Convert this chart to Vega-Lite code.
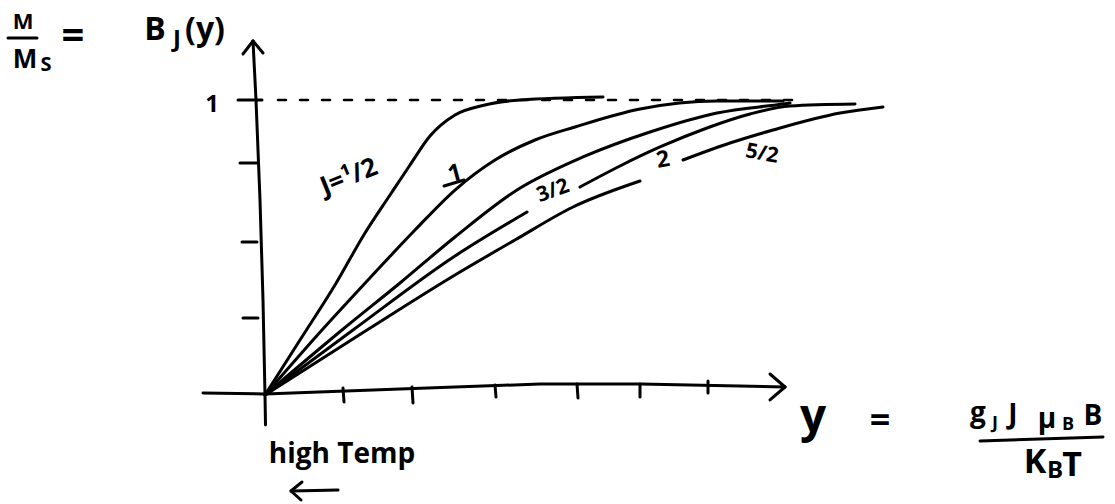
{
  "$schema": "https://vega.github.io/schema/vega-lite/v6.json",
  "width": 1115,
  "height": 504,
  "padding": 0,
  "autosize": {"type": "none"},
  "background": "white",
  "config": {"view": {"stroke": null}},
  "datasets": {
    "curves": [
      {"s": "J1/2", "x": 0, "y": 0}, {"s": "J1/2", "x": 0.35, "y": 0.1864}, {"s": "J1/2", "x": 0.70, "y": 0.3729}, {"s": "J1/2", "x": 1.00, "y": 0.5492}, {"s": "J1/2", "x": 1.25, "y": 0.6780}, {"s": "J1/2", "x": 1.45, "y": 0.7797}, {"s": "J1/2", "x": 1.65, "y": 0.8780}, {"s": "J1/2", "x": 1.90, "y": 0.9492}, {"s": "J1/2", "x": 2.20, "y": 0.9831}, {"s": "J1/2", "x": 2.55, "y": 1.0}, {"s": "J1/2", "x": 3.38, "y": 1.0101},
      {"s": "J1", "x": 0, "y": 0}, {"s": "J1", "x": 0.57, "y": 0.2203}, {"s": "J1", "x": 1.03, "y": 0.3898}, {"s": "J1", "x": 1.50, "y": 0.5593}, {"s": "J1", "x": 1.90, "y": 0.6949}, {"s": "J1", "x": 2.30, "y": 0.7966}, {"s": "J1", "x": 2.70, "y": 0.8644}, {"s": "J1", "x": 3.10, "y": 0.9085}, {"s": "J1", "x": 3.75, "y": 0.9695}, {"s": "J1", "x": 4.52, "y": 0.9966}, {"s": "J1", "x": 5.18, "y": 0.9966},
      {"s": "J3/2", "x": 0, "y": 0}, {"s": "J3/2", "x": 0.77, "y": 0.2203}, {"s": "J3/2", "x": 1.35, "y": 0.3797}, {"s": "J3/2", "x": 1.90, "y": 0.5356}, {"s": "J3/2", "x": 2.52, "y": 0.6949}, {"s": "J3/2", "x": 3.18, "y": 0.8068}, {"s": "J3/2", "x": 3.85, "y": 0.8915}, {"s": "J3/2", "x": 4.52, "y": 0.9559}, {"s": "J3/2", "x": 5.18, "y": 0.9864}, {"s": "J3/2", "x": 5.25, "y": 0.9898},
      {"s": "J2a", "x": 0, "y": 0}, {"s": "J2a", "x": 0.88, "y": 0.2203}, {"s": "J2a", "x": 1.90, "y": 0.4712}, {"s": "J2a", "x": 2.62, "y": 0.6203},
      {"s": "J2b", "x": 3.15, "y": 0.7051}, {"s": "J2b", "x": 3.55, "y": 0.7763}, {"s": "J2b", "x": 3.95, "y": 0.8407}, {"s": "J2b", "x": 4.42, "y": 0.9051}, {"s": "J2b", "x": 4.85, "y": 0.9525}, {"s": "J2b", "x": 5.25, "y": 0.9797}, {"s": "J2b", "x": 5.90, "y": 0.9864},
      {"s": "J5/2a", "x": 0, "y": 0}, {"s": "J5/2a", "x": 1.02, "y": 0.2203}, {"s": "J5/2a", "x": 1.90, "y": 0.4068}, {"s": "J5/2a", "x": 2.50, "y": 0.5254}, {"s": "J5/2a", "x": 3.08, "y": 0.6373}, {"s": "J5/2a", "x": 3.75, "y": 0.7254},
      {"s": "J5/2b", "x": 4.18, "y": 0.7966}, {"s": "J5/2b", "x": 4.65, "y": 0.8542}, {"s": "J5/2b", "x": 5.08, "y": 0.8983}, {"s": "J5/2b", "x": 5.75, "y": 0.9559}, {"s": "J5/2b", "x": 6.18, "y": 0.9763}
    ],
    "axes": [
      {"s": "yaxis", "x": 0.005, "y": -0.1017}, {"s": "yaxis", "x": 0, "y": 0}, {"s": "yaxis", "x": -0.02, "y": 0.3220}, {"s": "yaxis", "x": -0.05, "y": 0.6610}, {"s": "yaxis", "x": -0.09, "y": 1.0}, {"s": "yaxis", "x": -0.12, "y": 1.2},
      {"s": "xaxis", "x": -0.62, "y": 0.0068}, {"s": "xaxis", "x": 0, "y": 0.0034}, {"s": "xaxis", "x": 1.35, "y": 0.0203}, {"s": "xaxis", "x": 2.75, "y": 0.0373}, {"s": "xaxis", "x": 3.75, "y": 0.0373}, {"s": "xaxis", "x": 5.20, "y": 0.0271}
    ],
    "segs": [
      {"x": -0.27, "y": 1.0, "x2": -0.03, "y2": 1.0},
      {"x": -0.25, "y": 0.7864, "x2": -0.08, "y2": 0.7864},
      {"x": -0.23, "y": 0.5186, "x2": -0.08, "y2": 0.5186},
      {"x": -0.22, "y": 0.2610, "x2": -0.07, "y2": 0.2610},
      {"x": 0.78, "y": 0.0237, "x2": 0.79, "y2": -0.0237},
      {"x": 1.47, "y": 0.0271, "x2": 1.48, "y2": -0.0271},
      {"x": 2.30, "y": 0.0339, "x2": 2.31, "y2": -0.0068},
      {"x": 3.12, "y": 0.0373, "x2": 3.13, "y2": -0.0102},
      {"x": 3.75, "y": 0.0373, "x2": 3.75, "y2": -0.0068},
      {"x": 4.43, "y": 0.0475, "x2": 4.43, "y2": 0.0068},
      {"x": -0.22, "y": 1.1559, "x2": -0.12, "y2": 1.2},
      {"x": -0.12, "y": 1.2, "x2": -0.02, "y2": 1.1593},
      {"x": 5.05, "y": 0.0712, "x2": 5.20, "y2": 0.0271},
      {"x": 5.20, "y": 0.0271, "x2": 5.05, "y2": -0.0169},
      {"x": -2.57, "y": 1.2102, "x2": -2.28, "y2": 1.2102},
      {"x": 7.15, "y": -0.1559, "x2": 8.38, "y2": -0.1424},
      {"x": 1.79, "y": 0.7085, "x2": 1.99, "y2": 0.7288},
      {"x": 0.27, "y": -0.3254, "x2": 0.73, "y2": -0.3220},
      {"x": 0.37, "y": -0.2949, "x2": 0.26, "y2": -0.3254},
      {"x": 0.26, "y": -0.3254, "x2": 0.36, "y2": -0.3559}
    ],
    "dashed": [{"x": 0.13, "y": 1.0, "x2": 5.40}],
    "t_mtop": [{"t": "M", "x": -2.42, "y": 1.2644}],
    "t_mbot": [{"t": "M", "x": -2.40, "y": 1.1356}],
    "t_s": [{"t": "S", "x": -2.19, "y": 1.1186}],
    "t_eq1": [{"t": "=", "x": -1.92, "y": 1.2136}],
    "t_b": [{"t": "B", "x": -1.10, "y": 1.2373}, {"t": "(y)", "x": -0.60, "y": 1.2373}],
    "t_jsub": [{"t": "J", "x": -0.88, "y": 1.2034}],
    "t_one": [{"t": "1", "x": -0.53, "y": 0.9831}],
    "t_jhalf": [{"t": "J=¹/2", "x": 0.84, "y": 0.7390}],
    "t_l1": [{"t": "1", "x": 1.90, "y": 0.7492}],
    "t_l32": [{"t": "3/2", "x": 2.88, "y": 0.6915}],
    "t_l2": [{"t": "2", "x": 3.98, "y": 0.7966}],
    "t_l52": [{"t": "5/2", "x": 4.97, "y": 0.8169}],
    "t_yvar": [{"t": "y", "x": 5.48, "y": -0.0780}],
    "t_eq2": [{"t": "=", "x": 6.15, "y": -0.0881}],
    "t_num": [{"t": "g", "x": 7.13, "y": -0.0644}, {"t": "J", "x": 7.48, "y": -0.0712}, {"t": "μ", "x": 7.82, "y": -0.0847}, {"t": "B", "x": 8.28, "y": -0.0746}],
    "t_numsub": [{"t": "J", "x": 7.30, "y": -0.0983}, {"t": "B", "x": 8.03, "y": -0.1017}],
    "t_den": [{"t": "K", "x": 7.70, "y": -0.2305}, {"t": "T", "x": 8.07, "y": -0.2407}],
    "t_densub": [{"t": "B", "x": 7.90, "y": -0.2576}],
    "t_high": [{"t": "high Temp", "x": 0.77, "y": -0.2034}]
  },
  "encoding": {
    "x": {"field": "x", "type": "quantitative", "scale": {"domain": [-2.65, 8.5], "nice": false, "zero": false}, "axis": null},
    "y": {"field": "y", "type": "quantitative", "scale": {"domain": [-0.36949, 1.33898], "nice": false, "zero": false}, "axis": null}
  },
  "layer": [
    {"data": {"name": "dashed"}, "mark": {"type": "rule", "stroke": "black", "strokeWidth": 2.5, "strokeDash": [8, 14], "strokeCap": "round"}, "encoding": {"x2": {"field": "x2"}}},
    {"data": {"name": "curves"}, "mark": {"type": "line", "interpolate": "monotone", "stroke": "black", "strokeWidth": 3, "strokeCap": "round", "strokeJoin": "round"}, "encoding": {"detail": {"field": "s"}}},
    {"data": {"name": "axes"}, "mark": {"type": "line", "interpolate": "linear", "stroke": "black", "strokeWidth": 3, "strokeCap": "round", "strokeJoin": "round"}, "encoding": {"detail": {"field": "s"}}},
    {"data": {"name": "segs"}, "mark": {"type": "rule", "stroke": "black", "strokeWidth": 3, "strokeCap": "round"}, "encoding": {"x2": {"field": "x2"}, "y2": {"field": "y2"}}},
    {"data": {"name": "t_mtop"}, "mark": {"type": "text", "font": "Open Sans", "fontWeight": "bold", "fontSize": 22, "align": "center", "baseline": "middle"}, "encoding": {"text": {"field": "t"}}},
    {"data": {"name": "t_mbot"}, "mark": {"type": "text", "font": "Open Sans", "fontWeight": "bold", "fontSize": 26, "align": "center", "baseline": "middle"}, "encoding": {"text": {"field": "t"}}},
    {"data": {"name": "t_s"}, "mark": {"type": "text", "font": "Open Sans", "fontWeight": "bold", "fontSize": 20, "align": "center", "baseline": "middle"}, "encoding": {"text": {"field": "t"}}},
    {"data": {"name": "t_eq1"}, "mark": {"type": "text", "font": "Open Sans", "fontWeight": "bold", "fontSize": 40, "align": "center", "baseline": "middle"}, "encoding": {"text": {"field": "t"}}},
    {"data": {"name": "t_b"}, "mark": {"type": "text", "font": "Open Sans", "fontWeight": "bold", "fontSize": 32, "align": "center", "baseline": "middle"}, "encoding": {"text": {"field": "t"}}},
    {"data": {"name": "t_jsub"}, "mark": {"type": "text", "font": "Open Sans", "fontWeight": "bold", "fontSize": 24, "align": "center", "baseline": "middle"}, "encoding": {"text": {"field": "t"}}},
    {"data": {"name": "t_one"}, "mark": {"type": "text", "font": "Open Sans", "fontWeight": "bold", "fontSize": 24, "align": "center", "baseline": "middle"}, "encoding": {"text": {"field": "t"}}},
    {"data": {"name": "t_jhalf"}, "mark": {"type": "text", "font": "Open Sans", "fontWeight": "bold", "fontSize": 26, "angle": 338, "align": "center", "baseline": "middle"}, "encoding": {"text": {"field": "t"}}},
    {"data": {"name": "t_l1"}, "mark": {"type": "text", "font": "Open Sans", "fontWeight": "bold", "fontSize": 24, "angle": 345, "align": "center", "baseline": "middle"}, "encoding": {"text": {"field": "t"}}},
    {"data": {"name": "t_l32"}, "mark": {"type": "text", "font": "Open Sans", "fontWeight": "bold", "fontSize": 21, "angle": 340, "align": "center", "baseline": "middle"}, "encoding": {"text": {"field": "t"}}},
    {"data": {"name": "t_l2"}, "mark": {"type": "text", "font": "Open Sans", "fontWeight": "bold", "fontSize": 23, "angle": 350, "align": "center", "baseline": "middle"}, "encoding": {"text": {"field": "t"}}},
    {"data": {"name": "t_l52"}, "mark": {"type": "text", "font": "Open Sans", "fontWeight": "bold", "fontSize": 21, "angle": 10, "align": "center", "baseline": "middle"}, "encoding": {"text": {"field": "t"}}},
    {"data": {"name": "t_yvar"}, "mark": {"type": "text", "font": "Open Sans", "fontWeight": "bold", "fontSize": 46, "align": "center", "baseline": "middle"}, "encoding": {"text": {"field": "t"}}},
    {"data": {"name": "t_eq2"}, "mark": {"type": "text", "font": "Open Sans", "fontWeight": "bold", "fontSize": 36, "align": "center", "baseline": "middle"}, "encoding": {"text": {"field": "t"}}},
    {"data": {"name": "t_num"}, "mark": {"type": "text", "font": "Open Sans", "fontWeight": "bold", "fontSize": 28, "align": "center", "baseline": "middle"}, "encoding": {"text": {"field": "t"}}},
    {"data": {"name": "t_numsub"}, "mark": {"type": "text", "font": "Open Sans", "fontWeight": "bold", "fontSize": 18, "align": "center", "baseline": "middle"}, "encoding": {"text": {"field": "t"}}},
    {"data": {"name": "t_den"}, "mark": {"type": "text", "font": "Open Sans", "fontWeight": "bold", "fontSize": 34, "align": "center", "baseline": "middle"}, "encoding": {"text": {"field": "t"}}},
    {"data": {"name": "t_densub"}, "mark": {"type": "text", "font": "Open Sans", "fontWeight": "bold", "fontSize": 24, "align": "center", "baseline": "middle"}, "encoding": {"text": {"field": "t"}}},
    {"data": {"name": "t_high"}, "mark": {"type": "text", "font": "Open Sans", "fontWeight": "bold", "fontSize": 28, "align": "center", "baseline": "middle"}, "encoding": {"text": {"field": "t"}}}
  ]
}
